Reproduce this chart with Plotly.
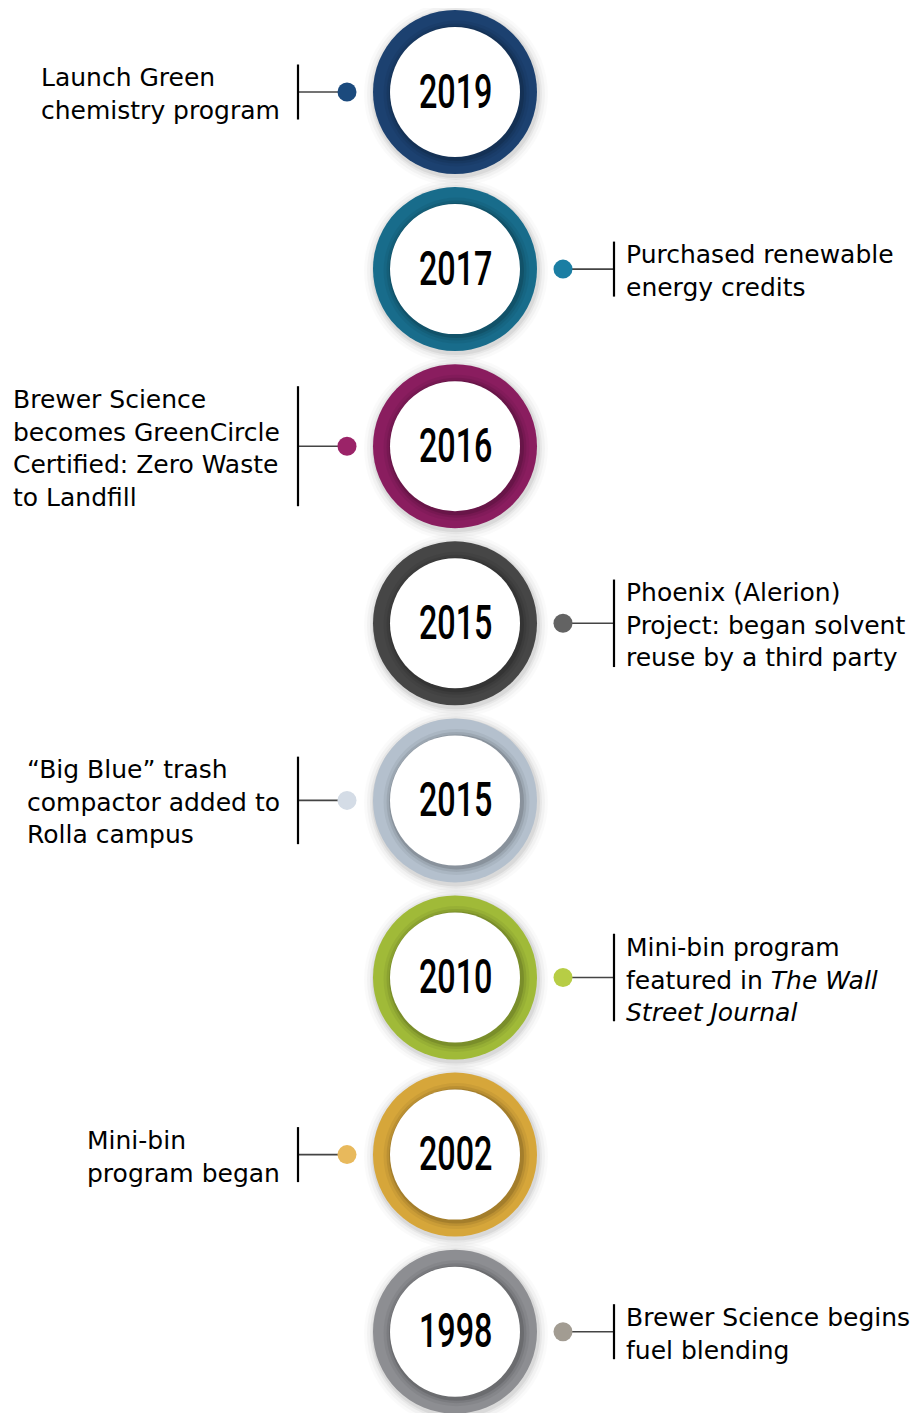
import plotly.graph_objects as go

# ---- data ----
years = ["2019", "2017", "2016", "2015", "2015", "2010", "2002", "1998"]
descriptions = [
    "Launch Green<br>chemistry program",
    "Purchased renewable<br>energy credits",
    "Brewer Science<br>becomes GreenCircle<br>Certified: Zero Waste<br>to Landfill",
    "Phoenix (Alerion)<br>Project: began solvent<br>reuse by a third party",
    "“Big Blue” trash<br>compactor added to<br>Rolla campus",
    "Mini-bin program<br>featured in <i>The Wall</i><br><i>Street Journal</i>",
    "Mini-bin<br>program began",
    "Brewer Science begins<br>fuel blending",
]
sides = ["left", "right", "left", "right", "left", "right", "left", "right"]
ring_colors = ["#1c4170", "#186c8b", "#8a1d5f", "#464646", "#b4c0cd", "#a0ba38", "#d6a63a", "#8d8e92"]
dot_colors = ["#1b4a7d", "#1b7ea3", "#9b2368", "#636363", "#d4dce6", "#b7cd45", "#e8b95c", "#a29c92"]
line_counts = [2, 2, 4, 3, 3, 3, 2, 2]

# ---- layout geometry (page pixels; page body has an 8px margin) ----
W, H = 919, 1413
PAD = 8
CX = 455
Y0, DY = 92, 177.1
R_OUT, R_IN = 82, 65
DOT_L, DOT_R = 347, 563
BAR_L, BAR_R = 298, 614
TXT_L, TXT_R = 282, 624
LINE_H = 32.5

fig = go.Figure()
shapes = []
annotations = []

def circ(cx, cy, r, color):
    return dict(type="circle", xref="x", yref="y", x0=cx - r, x1=cx + r, y0=cy - r, y1=cy + r,
                fillcolor=color, line=dict(width=0), layer="below")

for i, yr in enumerate(years):
    cy = Y0 + i * DY
    # soft drop shadow
    for rr, op in [(92, 0.02), (89, 0.03), (86, 0.045), (84, 0.06)]:
        shapes.append(circ(CX + 1, cy + 2, rr, f"rgba(0,0,0,{op})"))
    # ring
    shapes.append(circ(CX, cy, R_OUT, ring_colors[i]))
    # subtle inner shading toward the white disk
    for rr, op in [(73, 0.05), (70, 0.08), (67.5, 0.12)]:
        shapes.append(circ(CX + 1.5, cy + 1.5, rr, f"rgba(0,0,0,{op})"))
    shapes.append(circ(CX, cy, R_IN, "white"))
    annotations.append(dict(x=CX, y=cy - 1, xref="x", yref="y", text=yr, showarrow=False,
                            font=dict(family="Roboto, Liberation Sans, sans-serif",
                                      size=49, color="black", weight=500),
                            xanchor="center", yanchor="middle"))
    half = line_counts[i] * LINE_H / 2 - 5
    if sides[i] == "left":
        dx, bx, tx, xa = DOT_L, BAR_L, TXT_L, "right"
    else:
        dx, bx, tx, xa = DOT_R, BAR_R, TXT_R, "left"
    fig.add_trace(go.Scatter(x=[dx, bx], y=[cy, cy], mode="lines",
                             line=dict(color="#444444", width=1.6), hoverinfo="skip", showlegend=False))
    fig.add_trace(go.Scatter(x=[bx, bx], y=[cy - half, cy + half], mode="lines",
                             line=dict(color="black", width=2.2), hoverinfo="skip", showlegend=False))
    fig.add_trace(go.Scatter(x=[dx], y=[cy], mode="markers",
                             marker=dict(size=19, color=dot_colors[i], line=dict(width=0)),
                             hoverinfo="skip", showlegend=False))
    annotations.append(dict(x=tx, y=cy + 2, xref="x", yref="y", text=descriptions[i], showarrow=False,
                            font=dict(family="DejaVu Sans, sans-serif", size=25, color="black"),
                            xanchor=xa, yanchor="middle", align="left"))

fig.update_layout(
    width=W - PAD, height=H - PAD, margin=dict(l=0, r=0, t=0, b=0),
    paper_bgcolor="white", plot_bgcolor="white",
    xaxis=dict(range=[PAD, W], visible=False, fixedrange=True),
    yaxis=dict(range=[H, PAD], visible=False, fixedrange=True),
    shapes=shapes, annotations=annotations,
)

# condense the year labels horizontally (the original uses a condensed face)
post = """
function squeeze(){
  document.querySelectorAll('.annotation-text').forEach(function(t){
    if (/^\\d{4}$/.test(t.textContent.trim())) {
      t.style.transformBox = 'fill-box';
      t.style.transformOrigin = 'center';
      t.style.transform = 'scaleX(0.66)';
    }
  });
}
squeeze(); setTimeout(squeeze, 50);
"""
fig.write_html("out.html", post_script=post)
